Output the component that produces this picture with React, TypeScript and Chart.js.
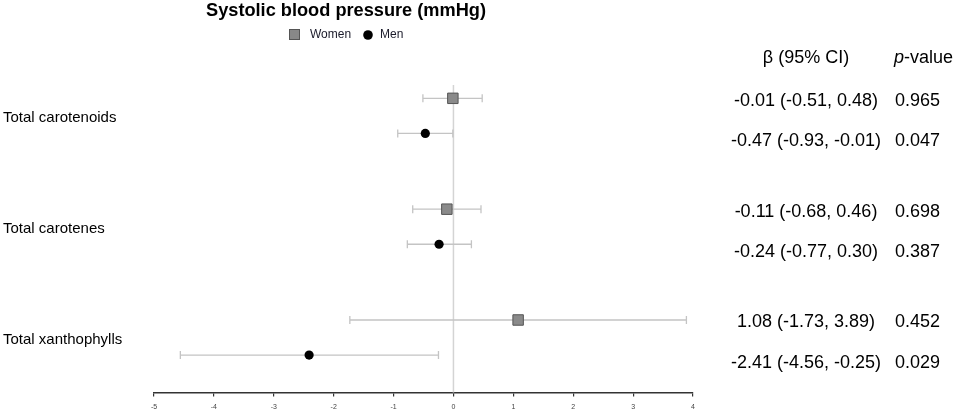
import React, { useEffect, useRef } from "react";
import { Chart, registerables } from "chart.js";

Chart.register(...registerables);

const title = "Systolic blood pressure (mmHg)";
const seriesNames = ["Women", "Men"];
const categories = ["Total carotenoids", "Total carotenes", "Total xanthophylls"];
const womenBeta = [-0.01, -0.11, 1.08];
const womenLow = [-0.51, -0.68, -1.73];
const womenHigh = [0.48, 0.46, 3.89];
const womenP = ["0.965", "0.698", "0.452"];
const menBeta = [-0.47, -0.24, -2.41];
const menLow = [-0.93, -0.77, -4.56];
const menHigh = [-0.01, 0.3, -0.25];
const menP = ["0.047", "0.387", "0.029"];
const xMin = -5;
const xMax = 4;

const GROUP_GAP = 3.16;
const FONT = '"Liberation Sans", Arial, Helvetica, sans-serif';

const rowOf = (g: number, s: number) => g * GROUP_GAP + s;

const fmt = (v: number) => v.toFixed(2);

export default function App() {
  const ref = useRef<HTMLCanvasElement | null>(null);

  useEffect(() => {
    if (!ref.current) return;
    const series = [
      { beta: womenBeta, low: womenLow, high: womenHigh, p: womenP },
      { beta: menBeta, low: menLow, high: menHigh, p: menP },
    ];

    const decor = {
      id: "decor",
      beforeDatasetsDraw(chart: any) {
        const { ctx, chartArea, scales } = chart;
        const xs = scales.x;
        const ys = scales.y;
        ctx.save();
        // zero reference line
        const x0 = xs.getPixelForValue(0);
        ctx.strokeStyle = "#d4d4d4";
        ctx.lineWidth = 1.5;
        ctx.beginPath();
        ctx.moveTo(x0, chartArea.top);
        ctx.lineTo(x0, chartArea.bottom);
        ctx.stroke();
        // error bars
        ctx.strokeStyle = "#c4c4c4";
        ctx.lineWidth = 1.3;
        series.forEach((s, si) => {
          s.beta.forEach((_, g) => {
            const y = ys.getPixelForValue(rowOf(g, si));
            const a = xs.getPixelForValue(s.low[g]);
            const b = xs.getPixelForValue(s.high[g]);
            ctx.beginPath();
            ctx.moveTo(a, y);
            ctx.lineTo(b, y);
            ctx.moveTo(a, y - 4);
            ctx.lineTo(a, y + 4);
            ctx.moveTo(b, y - 4);
            ctx.lineTo(b, y + 4);
            ctx.stroke();
          });
        });
        ctx.restore();
      },
      afterDraw(chart: any) {
        const { ctx, scales } = chart;
        const ys = scales.y;
        ctx.save();
        // title
        ctx.fillStyle = "#000";
        ctx.font = `bold 18.2px ${FONT}`;
        ctx.textAlign = "center";
        ctx.textBaseline = "middle";
        ctx.fillText(title, 346, 11);
        // legend
        ctx.fillStyle = "#888";
        ctx.strokeStyle = "#555";
        ctx.lineWidth = 1;
        ctx.fillRect(289.5, 29.5, 10, 10);
        ctx.strokeRect(289.5, 29.5, 10, 10);
        ctx.fillStyle = "#000";
        ctx.beginPath();
        ctx.arc(368, 35, 4.8, 0, Math.PI * 2);
        ctx.fill();
        ctx.fillStyle = "#1a1a2a";
        ctx.font = `12px ${FONT}`;
        ctx.textAlign = "left";
        ctx.fillText(seriesNames[0], 310, 35);
        ctx.fillText(seriesNames[1], 380, 35);
        // category labels
        ctx.fillStyle = "#000";
        ctx.font = `15px ${FONT}`;
        categories.forEach((c, g) => {
          const y = (ys.getPixelForValue(rowOf(g, 0)) + ys.getPixelForValue(rowOf(g, 1))) / 2 + 2;
          ctx.fillText(c, 3, y);
        });
        // table
        ctx.font = `18px ${FONT}`;
        ctx.textAlign = "center";
        ctx.fillText("β (95% CI)", 806, 58);
        ctx.textAlign = "left";
        ctx.font = `italic 18px ${FONT}`;
        ctx.fillText("p", 894, 58);
        const pw = ctx.measureText("p").width;
        ctx.font = `18px ${FONT}`;
        ctx.fillText("-value", 894 + pw, 58);
        series.forEach((s, si) => {
          s.beta.forEach((b, g) => {
            const y = ys.getPixelForValue(rowOf(g, si)) + (si === 0 ? 2.5 : 8);
            ctx.textAlign = "center";
            ctx.fillText(`${fmt(b)} (${fmt(s.low[g])}, ${fmt(s.high[g])})`, 806, y);
            ctx.textAlign = "left";
            ctx.fillText(s.p[g], 895, y);
          });
        });
        ctx.restore();
      },
    };

    const chart = new Chart(ref.current, {
      type: "scatter",
      data: {
        datasets: [
          {
            label: seriesNames[0],
            data: womenBeta.map((b, g) => ({ x: b, y: rowOf(g, 0) })),
            pointStyle: "rect",
            pointRadius: 7.4,
            backgroundColor: "#8a8a8a",
            borderColor: "#555",
            borderWidth: 1,
          },
          {
            label: seriesNames[1],
            data: menBeta.map((b, g) => ({ x: b, y: rowOf(g, 1) })),
            pointStyle: "circle",
            pointRadius: 4.6,
            backgroundColor: "#000",
            borderColor: "#000",
            borderWidth: 0,
          },
        ],
      },
      options: {
        animation: false,
        responsive: false,
        events: [],
        layout: { padding: { left: 154, right: 264, top: 85, bottom: -4 } },
        plugins: {
          legend: { display: false },
          title: { display: false },
          tooltip: { enabled: false },
        },
        scales: {
          x: {
            type: "linear",
            min: xMin,
            max: xMax,
            position: "bottom",
            ticks: {
              stepSize: 1,
              padding: 6,
              color: "#444",
              font: { size: 7, family: FONT },
              maxRotation: 0,
            },
            grid: {
              drawOnChartArea: false,
              drawTicks: true,
              tickLength: 4,
              color: "#333",
              lineWidth: 1.2,
            },
            border: { display: true, color: "#333", width: 1.5 },
          },
          y: {
            type: "linear",
            display: false,
            reverse: true,
            min: -0.38,
            max: 8.39,
          },
        },
      },
      plugins: [decor],
    });
    return () => chart.destroy();
  }, []);

  return (
    <div style={{ position: "absolute", left: 0, top: 0, width: 957, height: 413 }}>
      <canvas ref={ref} width={957} height={413} style={{ display: "block" }} />
    </div>
  );
}
